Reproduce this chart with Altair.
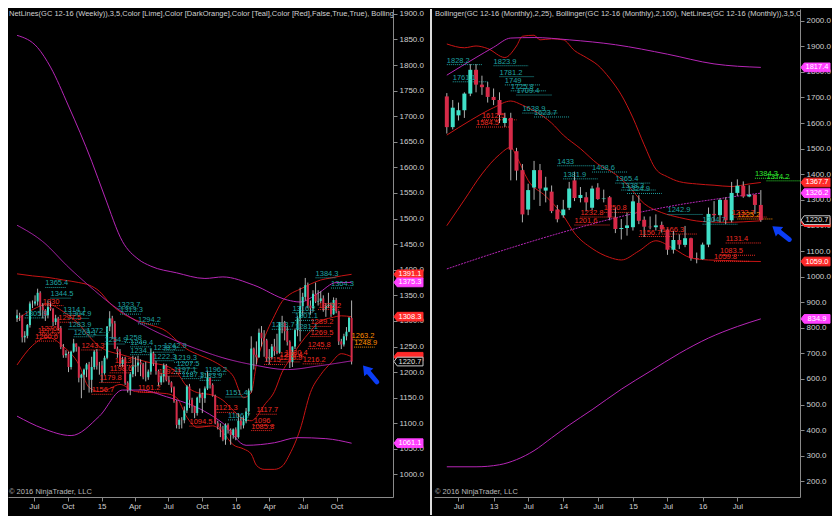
import altair as alt
import pandas as pd

FONT = "Liberation Sans"
BG = "#000000"
AX = "#8a8a8a"
LBL = "#cfcfcf"
UP = "#40e0c8"
DOWN = "#d62a48"
WICK = "#b0b0b0"
RED_LINE = "#c81414"
MAG_LINE = "#b626b6"
W_L, W_R, H = 385, 366, 488

# ---------------- weekly candles (left panel), first bar 2014-05-16 ----------------
w_open = [1305, 1311, 1310, 1268, 1271, 1292, 1334, 1334, 1338, 1355,
          1328, 1321, 1311, 1327, 1323, 1298, 1305, 1286, 1249, 1233,
          1236, 1210, 1240, 1256, 1249, 1189, 1195, 1205, 1215, 1185,
          1210, 1240, 1213, 1213, 1198, 1228, 1289, 1305, 1295, 1246,
          1240, 1216, 1225, 1179, 1165, 1196, 1211, 1213, 1219, 1215,
          1190, 1190, 1201, 1237, 1217, 1202, 1180, 1192, 1213, 1185,
          1180, 1170, 1143, 1097, 1107, 1106, 1125, 1172, 1146, 1133,
          1120, 1150, 1157, 1149, 1168, 1189, 1175, 1154, 1100, 1093,
          1088, 1068, 1097, 1087, 1077, 1088, 1073, 1105, 1096, 1104,
          1123, 1164, 1246, 1234, 1229, 1277, 1266, 1262, 1227, 1229,
          1250, 1241, 1238, 1298, 1297, 1280, 1259, 1220, 1250, 1282,
          1305, 1329, 1347, 1370, 1330, 1325, 1353, 1338, 1339, 1344,
          1324, 1329, 1331, 1313, 1341, 1319, 1260, 1254, 1270, 1279,
          1306]
w_high = [1322, 1316, 1312, 1280, 1294, 1338, 1340, 1350, 1363, 1358,
          1335, 1323, 1340, 1338, 1325, 1312, 1308, 1290, 1255, 1243,
          1240, 1242, 1265, 1256, 1250, 1197, 1207, 1218, 1220, 1230,
          1243, 1245, 1220, 1222, 1232, 1290, 1319, 1310, 1300, 1250,
          1245, 1230, 1230, 1182, 1200, 1232, 1230, 1232, 1225, 1218,
          1220, 1205, 1245, 1240, 1222, 1205, 1198, 1217, 1216, 1192,
          1182, 1172, 1145, 1110, 1112, 1133, 1175, 1177, 1150, 1134,
          1152, 1168, 1160, 1172, 1203, 1190, 1178, 1156, 1105, 1100,
          1095, 1100, 1100, 1090, 1090, 1092, 1120, 1112, 1115, 1130,
          1168, 1270, 1248, 1260, 1285, 1290, 1282, 1265, 1245, 1255,
          1265, 1275, 1298, 1310, 1300, 1290, 1262, 1250, 1285, 1310,
          1365, 1355, 1384, 1375, 1340, 1360, 1375, 1360, 1358, 1350,
          1335, 1355, 1336, 1346, 1345, 1320, 1265, 1275, 1288, 1308,
          1340]
w_low = [1298, 1300, 1258, 1258, 1266, 1287, 1325, 1330, 1330, 1310,
         1305, 1300, 1305, 1320, 1290, 1292, 1282, 1245, 1228, 1228,
         1200, 1205, 1238, 1240, 1180, 1149, 1165, 1190, 1160, 1160,
         1205, 1205, 1195, 1180, 1195, 1225, 1280, 1265, 1245, 1228,
         1210, 1210, 1175, 1160, 1155, 1190, 1192, 1200, 1192, 1186,
         1182, 1185, 1195, 1212, 1195, 1172, 1175, 1180, 1182, 1175,
         1160, 1140, 1090, 1089, 1090, 1100, 1120, 1130, 1120, 1110,
         1115, 1140, 1120, 1140, 1165, 1168, 1152, 1098, 1088, 1073,
         1065, 1058, 1080, 1058, 1070, 1067, 1070, 1088, 1090, 1100,
         1115, 1160, 1205, 1215, 1228, 1250, 1230, 1220, 1215, 1225,
         1232, 1235, 1236, 1276, 1262, 1252, 1208, 1210, 1245, 1270,
         1260, 1310, 1340, 1325, 1312, 1318, 1335, 1330, 1335, 1318,
         1308, 1325, 1308, 1312, 1315, 1253, 1245, 1250, 1262, 1278,
         1215]
w_close = [1311, 1310, 1268, 1271, 1292, 1334, 1334, 1338, 1355, 1328,
           1321, 1311, 1327, 1323, 1298, 1305, 1286, 1249, 1233, 1236,
           1210, 1240, 1256, 1249, 1189, 1195, 1205, 1215, 1185, 1210,
           1240, 1213, 1213, 1198, 1228, 1289, 1305, 1295, 1246, 1240,
           1216, 1225, 1179, 1165, 1196, 1211, 1213, 1219, 1215, 1190,
           1190, 1201, 1237, 1217, 1202, 1180, 1192, 1213, 1185, 1180,
           1170, 1143, 1097, 1107, 1106, 1125, 1172, 1146, 1133, 1120,
           1150, 1157, 1149, 1168, 1189, 1175, 1154, 1100, 1093, 1088,
           1068, 1097, 1087, 1077, 1088, 1073, 1105, 1096, 1104, 1123,
           1164, 1246, 1234, 1229, 1277, 1266, 1262, 1227, 1229, 1250,
           1241, 1238, 1298, 1297, 1280, 1259, 1220, 1250, 1282, 1305,
           1329, 1347, 1370, 1330, 1325, 1353, 1338, 1339, 1344, 1324,
           1329, 1331, 1313, 1341, 1319, 1260, 1254, 1270, 1279, 1306,
           1220.7]

# weekly Bollinger(25) red: bar index -> upper / middle / lower
wr_idx = [0, 6, 12, 18, 24, 28, 32, 36, 40, 46, 52, 58, 62, 66, 70, 76, 80, 84, 88, 91,
          93, 96, 100, 103, 106, 110, 114, 118, 122, 126, 130]
wr_up = [1392, 1388, 1385, 1380, 1375, 1370, 1358, 1335, 1318, 1302, 1292, 1280, 1262, 1245,
         1235, 1222, 1210, 1192, 1150, 1160, 1215, 1265, 1310, 1338, 1352, 1362, 1372, 1380,
         1384, 1388, 1391.1]
wr_mid = [1303, 1322, 1333, 1318, 1294, 1270, 1250, 1240, 1235, 1226, 1218, 1212, 1200, 1172,
          1160, 1155, 1145, 1125, 1108, 1105, 1112, 1135, 1162, 1200, 1225, 1255, 1280, 1300,
          1306, 1310, 1308.3]
wr_low = [1214, 1252, 1268, 1250, 1215, 1170, 1162, 1168, 1176, 1162, 1160, 1158, 1150, 1112,
          1092, 1095, 1082, 1058, 1050, 1040, 1018, 1010, 1010, 1016, 1040, 1088, 1160, 1195,
          1218, 1236, 1230]
# weekly Bollinger(100) magenta
wmu_idx = [0, 8, 13, 20, 29, 34, 41, 47, 52, 62, 73, 80, 92, 105, 110, 117, 124, 130]
wmu = [1858, 1834, 1796, 1720, 1612, 1544, 1455, 1421, 1407, 1394, 1383, 1386, 1370, 1341,
       1337, 1354, 1375, 1375.3]
wmm_idx = [0, 10, 20, 30, 36, 48, 60, 70, 80, 92, 105, 117, 130]
wmm = [1487, 1455, 1405, 1360, 1335, 1295, 1265, 1245, 1228, 1214, 1205, 1212, 1222]
wml_idx = [0, 10, 21, 32, 41, 48, 58, 73, 80, 89, 100, 109, 120, 130]
wml = [1114, 1090, 1076, 1114, 1165, 1165, 1152, 1123, 1100, 1057, 1062, 1072, 1070, 1061.1]

# weekly NetLines labels
wl_text = ["1365.4", "1344.5", "1305.9", "1314.1", "1304.9", "1283.9", "1272.1", "1269.1",
           "1323.7", "1313.3", "1294.2", "1258", "1254.9", "1249.4", "1238.9", "1234.1",
           "1242.9", "1222.3", "1219.3", "1207.5", "1197.1", "1187.3", "1183.9", "1196.2",
           "1151.4", "1106.7", "1384.3", "1364.3", "1316.2", "1301.1", "1283.7", "1281.1",
           "1330", "1297.5", "1276", "1271.9", "1260.6", "1243.3", "1213", "1198.6",
           "1179.8", "1161.2", "1156.7", "1192.1", "1121.3", "1094.5", "1117.7", "1096",
           "1085.8", "1322.2", "1289.2", "1269.5", "1245.8", "1230.4", "1225.4", "1219.9",
           "1215", "1216.2", "1263.2", "1248.9"]
wl_idx = [11, 13, 3, 18, 20, 20, 27, 22,
          39, 40, 47, 42, 34, 44, 53, 44,
          57, 53, 61, 62, 61, 64, 71, 73,
          81, 82, 116, 122, 107, 108, 99, 108,
          10, 16, 9, 8, 7, 25, 38, 36,
          32, 47, 29, 55, 77, 67, 93, 92,
          91, 117, 114, 114, 113, 104, 102, 102,
          96, 111, 130, 131]
wl_kind = ["T"] * 32 + ["R"] * 26 + ["O"] * 2

# ---------------- monthly candles (right panel), first bar 2012-05 ----------------
m_open = [1704, 1584, 1630, 1650, 1715, 1808, 1750, 1740, 1702, 1690,
          1600, 1620, 1490, 1416, 1262, 1348, 1416, 1336, 1332, 1262,
          1240, 1269, 1376, 1307, 1310, 1269, 1348, 1303, 1310, 1231,
          1186, 1190, 1193, 1288, 1222, 1195, 1193, 1202, 1184, 1105,
          1143, 1124, 1150, 1072, 1068, 1125, 1245, 1240, 1300, 1220,
          1327, 1355, 1313, 1320, 1280]
m_high = [1717, 1690, 1680, 1720, 1830, 1830, 1785, 1760, 1735, 1720,
          1640, 1640, 1503, 1440, 1363, 1452, 1440, 1390, 1356, 1280,
          1300, 1370, 1410, 1350, 1330, 1355, 1365, 1340, 1315, 1270,
          1225, 1250, 1318, 1318, 1235, 1235, 1243, 1215, 1188, 1178,
          1165, 1198, 1152, 1094, 1133, 1270, 1295, 1305, 1310, 1370,
          1380, 1372, 1357, 1322, 1338]
m_low = [1559, 1575, 1610, 1620, 1705, 1720, 1710, 1680, 1670, 1600,
         1585, 1376, 1376, 1212, 1240, 1300, 1276, 1290, 1248, 1212,
         1230, 1260, 1295, 1290, 1255, 1260, 1300, 1290, 1220, 1170,
         1145, 1160, 1180, 1205, 1155, 1185, 1180, 1172, 1085, 1090,
         1108, 1115, 1062, 1052, 1066, 1115, 1215, 1212, 1205, 1212,
         1315, 1308, 1310, 1245, 1214]
m_close = [1584, 1660, 1650, 1715, 1808, 1750, 1740, 1702, 1690, 1631,
           1620, 1496, 1414, 1243, 1338, 1416, 1344, 1348, 1256, 1224,
           1262, 1344, 1307, 1319, 1290, 1344, 1303, 1305, 1231, 1186,
           1190, 1200, 1294, 1218, 1195, 1193, 1200, 1184, 1105, 1143,
           1125, 1150, 1072, 1068, 1125, 1245, 1240, 1300, 1220, 1327,
           1355, 1313, 1320, 1280, 1220.7]

# monthly Bollinger(25) red
mru_idx = [0, 3, 5, 7, 10, 12, 13, 15, 16, 18, 20, 22, 24, 26, 28, 30, 32, 34, 36, 38,
           40, 43, 46, 49, 52, 54]
mru = [1909, 1894, 1901, 1891, 1856, 1901, 1939, 1943, 1925, 1929, 1925, 1883, 1856, 1826,
       1775, 1710, 1620, 1515, 1420, 1390, 1371, 1362, 1357, 1352, 1362, 1367.7]
mrm_idx = [0, 4, 8, 11, 13, 15, 18, 20, 23, 26, 29, 31, 34, 37, 40, 44, 48, 51, 54]
mrm = [1553, 1610, 1660, 1686, 1670, 1648, 1600, 1553, 1500, 1440, 1400, 1360, 1285, 1250,
       1231, 1215, 1212, 1214, 1218]
mrl_idx = [0, 3, 6, 9, 11, 12, 14, 17, 20, 22, 25, 28, 30, 33, 36, 39, 42, 45, 48, 51, 54]
mrl = [1199, 1300, 1401, 1477, 1505, 1470, 1376, 1314, 1238, 1170, 1110, 1075, 1065, 1100,
       1140, 1110, 1073, 1065, 1063, 1060, 1059]
# monthly Bollinger(100) magenta
mmu_idx = [0, 5, 8, 11, 15, 21, 29, 38, 46, 54]
mmu = [1787, 1856, 1896, 1932, 1934, 1925, 1906, 1869, 1831, 1817.4]
mmm_idx = [0, 10, 20, 30, 40, 47, 54]
mmm = [1030, 1105, 1174, 1235, 1281, 1305, 1326.2]
mml_idx = [0, 5, 9, 12, 15, 18, 21, 25, 30, 35, 40, 45, 50, 54]
mml = [257, 257, 265, 285, 320, 370, 420, 480, 560, 630, 700, 760, 805, 834.9]

# monthly NetLines labels
ml_text = ["1828.2", "1761.1", "1823.9", "1781.2", "1749", "1725.8", "1709.4", "1638.9",
           "1623.7", "1433", "1381.9", "1408.6", "1365.4", "1338.3", "1324.9", "1242.9",
           "1204.7",
           "1612.5", "1584.5", "1250.8", "1232.8", "1201.6", "1156.7", "1166.3", "1131.4",
           "1083.5", "1059.8", "1232.7",
           "1225.2", "1384.3", "1374.2"]
ml_idx = [0, 1, 8, 9, 10, 11, 12, 13, 15, 19, 20, 25, 29, 30, 31, 38, 44,
          6, 5, 27, 23, 22, 33, 37, 48, 47, 46, 49,
          50, 53, 55]
ml_kind = ["T"] * 17 + ["R"] * 11 + ["O"] + ["L"] * 2

# price flags on the axes: value, text, fill, outline, text colour
fl_left = [(1391.1, "1391.1", "#ff2a2a", "#ff2a2a", "#ffffff"),
           (1375.3, "1375.3", "#ff40ff", "#ff40ff", "#ffffff"),
           (1308.3, "1308.3", "#ff2a2a", "#ff2a2a", "#ffffff"),
           (1230.0, "", "#ff2a2a", "#ff2a2a", "#ffffff"),
           (1220.7, "1220.7", "#000000", "#c8c8c8", "#e0e0e0"),
           (1061.1, "1061.1", "#ff40ff", "#ff40ff", "#ffffff")]
fl_right = [(1817.4, "1817.4", "#ff40ff", "#ff40ff", "#ffffff"),
            (1367.7, "1367.7", "#ff2a2a", "#ff2a2a", "#ffffff"),
            (1326.2, "1326.2", "#ff40ff", "#ff40ff", "#ffffff"),
            (1213.0, "", "#ff2a2a", "#ff2a2a", "#ffffff"),
            (1220.7, "1220.7", "#000000", "#c8c8c8", "#e0e0e0"),
            (1059.0, "1059.0", "#ff2a2a", "#ff2a2a", "#ffffff"),
            (834.9, "834.9", "#ff40ff", "#ff40ff", "#ffffff")]

# indicator captions as far as they are visible inside each panel
title_left = ("NetLines(GC 12-16 (Weekly)),3,5,Color [Lime],Color [DarkOrange],Color [Teal],"
              "Color [Red],False,True,True), Bolling")
title_right = ("Bollinger(GC 12-16 (Monthly),2,25), Bollinger(GC 12-16 (Monthly),2,100), "
               "NetLines(GC 12-16 (Monthly)),3,5,C")
copyright_text = "\u00a9 2016 NinjaTrader, LLC"

KIND_COL = {"T": "#1fa3a3", "R": "#ee2a22", "O": "#ff8c00", "L": "#2ee82e"}
FLAG_PATH = "M-1,0 L-0.78,-0.3 L1,-0.3 L1,0.3 L-0.78,0.3 Z"
ARROW_PATH = ("M0,-1 L0.5,-0.25 L0.2,-0.25 L0.2,0.8 Q0.2,1 0,1 Q-0.2,1 -0.2,0.8 "
              "L-0.2,-0.25 L-0.5,-0.25 Z")


def wdate(i):
    return (pd.Timestamp("2014-05-16") + pd.Timedelta(days=round(7 * i))).strftime("%Y-%m-%d")


def mdate(k):
    whole = int(k)
    base = pd.Timestamp("2012-05-01") + pd.DateOffset(months=whole)
    return (base + pd.Timedelta(days=round(30.4 * (k - whole)))).strftime("%Y-%m-%d")


def candle_df(o, h, l, c, to_date):
    return pd.DataFrame({
        "date": [to_date(i) for i in range(len(c))],
        "open": o, "high": h, "low": l, "close": c,
        "col": [UP if cc >= oo else DOWN for oo, cc in zip(o, c)],
    })


def band_df(parts, to_date):
    rows = []
    for name, idxs, vals in parts:
        for i, v in zip(idxs, vals):
            rows.append({"date": to_date(i), "value": v, "series": name})
    return pd.DataFrame(rows)


def label_df(texts, idxs, kinds, to_date, span):
    return pd.DataFrame({
        "date": [to_date(i) for i in idxs],
        "date2": [to_date(i + span) for i in idxs],
        "value": [float(t) for t in texts],
        "label": texts,
        "col": [KIND_COL[k] for k in kinds],
    })


def flag_df(flags):
    return pd.DataFrame(flags, columns=["value", "label", "fill", "stroke", "tc"])


def x_axis(vals):
    return alt.Axis(
        values=[alt.DateTime(year=y, month=m, date=1, utc=True) for y, m in vals],
        labelExpr="utcFormat(datum.value, '%m') == '01' ? utcFormat(datum.value, '%y') : utcFormat(datum.value, '%b')",
        title=None, grid=False, domainColor=AX, tickColor=AX, tickSize=4,
        labelColor=LBL, labelFont=FONT, labelFontSize=8, labelPadding=1,
        labelOverlap=False, labelFlush=False)


def y_axis(vals):
    return alt.Axis(orient="right", values=vals, format=".1f", title=None, grid=False,
                    domainColor=AX, tickColor=AX, tickSize=4, labelColor=LBL,
                    labelFont=FONT, labelFontSize=8, labelPadding=2,
                    labelOverlap=False, labelFlush=False)


def panel(cd, bands_red, bands_mag, mag_mid, labels, flags, arrow, xscale, xaxis, yscale,
          yaxis, width, body, title, arrow_angle, separator):
    X = alt.X("date:T", scale=xscale, axis=xaxis)

    def Y(field):
        return alt.Y(f"{field}:Q", scale=yscale, axis=yaxis)

    layers = []
    layers.append(alt.Chart(bands_red).mark_line(color=RED_LINE, strokeWidth=1, clip=True,
                                                 interpolate="monotone")
                  .encode(x=X, y=Y("value"), detail="series:N"))
    layers.append(alt.Chart(bands_mag).mark_line(color=MAG_LINE, strokeWidth=1, clip=True,
                                                 interpolate="monotone")
                  .encode(x=X, y=Y("value"), detail="series:N"))
    layers.append(alt.Chart(mag_mid[0]).mark_line(color=MAG_LINE, strokeWidth=1, clip=True,
                                                  interpolate="monotone",
                                                  strokeDash=mag_mid[1])
                  .encode(x=X, y=Y("value")))
    layers.append(alt.Chart(labels).mark_rule(strokeWidth=1, strokeDash=[1, 1], clip=True)
                  .encode(x=X, x2="date2:T", y=Y("value"),
                          color=alt.Color("col:N", scale=None)))
    layers.append(alt.Chart(cd).mark_rule(color=WICK, strokeWidth=1, clip=True)
                  .encode(x=X, y=Y("low"), y2="high:Q"))
    layers.append(alt.Chart(cd).mark_bar(size=body, clip=True)
                  .encode(x=X, y=Y("open"), y2="close:Q",
                          color=alt.Color("col:N", scale=None)))
    layers.append(alt.Chart(labels).mark_text(align="left", baseline="bottom", fontSize=7.5,
                                              font=FONT, clip=True, dy=0)
                  .encode(x=X, y=Y("value"), text="label:N",
                          color=alt.Color("col:N", scale=None)))
    layers.append(alt.Chart(pd.DataFrame({"t": [title]}))
                  .mark_text(align="left", baseline="top", fontSize=7.5, font=FONT,
                             color="#d0d0d0", clip=True)
                  .encode(x=alt.value(1), y=alt.value(1), text="t:N"))
    layers.append(alt.Chart(pd.DataFrame({"t": [copyright_text]}))
                  .mark_text(align="left", baseline="bottom", fontSize=7.5, font=FONT,
                             color="#b8b8b8", clip=True)
                  .encode(x=alt.value(1), y=alt.value(H - 1), text="t:N"))
    layers.append(alt.Chart(arrow).mark_point(shape=ARROW_PATH, size=576, filled=True,
                                              opacity=1, color="#0b3df5", angle=arrow_angle,
                                              clip=True)
                  .encode(x=X, y=Y("value")))
    layers.append(alt.Chart(flags).mark_point(shape=FLAG_PATH, size=841, filled=True,
                                              opacity=1, strokeWidth=1)
                  .encode(x=alt.value(width + 15.5), y=Y("value"),
                          fill=alt.Fill("fill:N", scale=None),
                          stroke=alt.Stroke("stroke:N", scale=None)))
    layers.append(alt.Chart(flags).mark_text(align="center", baseline="middle",
                                             fontSize=7.5, font=FONT)
                  .encode(x=alt.value(width + 17), y=Y("value"), text="label:N",
                          color=alt.Color("tc:N", scale=None)))
    if separator:
        layers.append(alt.Chart(pd.DataFrame({"a": [0]}))
                      .mark_rule(color="#dcdcdc", strokeWidth=2)
                      .encode(x=alt.value(-3), y=alt.value(0), y2=alt.value(H + 18)))
    return alt.layer(*layers).properties(width=width, height=H)


# ---------- left (weekly) ----------
wk = candle_df(w_open, w_high, w_low, w_close, wdate)
wk_red = band_df([("u", wr_idx, wr_up), ("m", wr_idx, wr_mid), ("l", wr_idx, wr_low)], wdate)
wk_mag = band_df([("u", wmu_idx, wmu), ("l", wml_idx, wml)], wdate)
wk_magmid = band_df([("m", wmm_idx, wmm)], wdate)
wk_lab = label_df(wl_text, wl_idx, wl_kind, wdate, 8)
wk_arrow = pd.DataFrame({"date": [wdate(137.5)], "value": [1195]})

xsL = alt.Scale(type="utc", domain=[alt.DateTime(year=2014, month=5, date=5, utc=True),
                                    alt.DateTime(year=2017, month=2, date=18, utc=True)])
ysL = alt.Scale(domain=[956, 1909.5], nice=False, zero=False)
left = panel(wk, wk_red, wk_mag, (wk_magmid, [1, 0]), wk_lab, flag_df(fl_left), wk_arrow,
             xsL, x_axis([(2014, 7), (2014, 10), (2015, 1), (2015, 4), (2015, 7), (2015, 10),
                          (2016, 1), (2016, 4), (2016, 7), (2016, 10)]),
             ysL, y_axis(list(range(1000, 1901, 50))), W_L, 2, title_left, 320, False)

# ---------- right (monthly) ----------
mk = candle_df(m_open, m_high, m_low, m_close, mdate)
mk_red = band_df([("u", mru_idx, mru), ("m", mrm_idx, mrm), ("l", mrl_idx, mrl)], mdate)
mk_mag = band_df([("u", mmu_idx, mmu), ("l", mml_idx, mml)], mdate)
mk_magmid = band_df([("m", mmm_idx, mmm)], mdate)
mk_lab = label_df(ml_text, ml_idx, ml_kind, mdate, 6)
mk_arrow = pd.DataFrame({"date": [mdate(57.6)], "value": [1168]})

xsR = alt.Scale(type="utc", domain=[alt.DateTime(year=2012, month=3, date=21, utc=True),
                                    alt.DateTime(year=2017, month=4, date=29, utc=True)])
ysR = alt.Scale(domain=[139, 2045.5], nice=False, zero=False)
right = panel(mk, mk_red, mk_mag, (mk_magmid, [2, 1]), mk_lab, flag_df(fl_right), mk_arrow,
              xsR, x_axis([(2012, 7), (2013, 1), (2013, 7), (2014, 1), (2014, 7), (2015, 1),
                           (2015, 7), (2016, 1), (2016, 7)]),
              ysR, y_axis(list(range(200, 2001, 100))), W_R, 4, title_right, 308, True)

chart = (alt.hconcat(left, right, spacing=41, bounds="flush")
         .resolve_scale(x="independent", y="independent")
         .properties(padding=0, background=BG)
         .configure_view(stroke=None))

chart.save("out.html", embed_options={"renderer": "svg", "actions": False})
